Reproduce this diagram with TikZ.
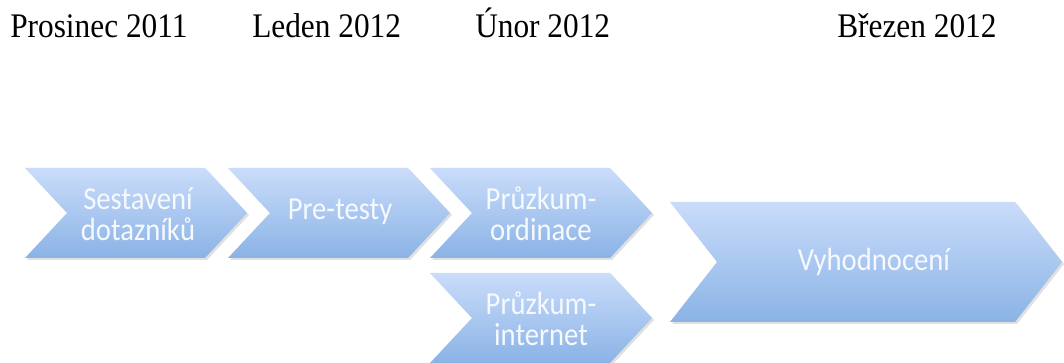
\documentclass[tikz,border=0pt]{standalone}
\usepackage{fontspec}
\setmainfont{Liberation Serif}
\newfontfamily\chevfont{Carlito}
\definecolor{chevtop}{RGB}{202,220,250}
\definecolor{chevbot}{RGB}{138,179,230}
\definecolor{chevtext}{RGB}{246,249,254}
\newcommand\mychevron[6]{%
  % #1 left, #2 top-right x, #3 ytop, #4 ybot, #5 depth, #6 unused
  \fill[black,opacity=0.12] ({#1+2},{#3+2}) -- ({#2+2},{#3+2}) -- ({#2+#5+2},{(#3+#4)/2+2}) -- ({#2+2},{#4+2}) -- ({#1+2},{#4+2}) -- ({#1+#5+2},{(#3+#4)/2+2}) -- cycle;
  \shade[top color=chevtop,bottom color=chevbot] (#1,#3) -- (#2,#3) -- ({#2+#5},{(#3+#4)/2}) -- (#2,#4) -- (#1,#4) -- ({#1+#5},{(#3+#4)/2}) -- cycle;
}
\tikzset{
  month/.style={anchor=base west,inner sep=0pt,yscale=1.1,transform shape,font=\fontsize{23.5}{28}\selectfont},
  chevlabel/.style={align=center,text=chevtext,inner sep=0pt,yscale=1.12,transform shape,font=\chevfont\fontsize{21.5}{20.5}\selectfont}
}
\begin{document}
\begin{tikzpicture}[x=0.75pt,y=-0.75pt]
\useasboundingbox (0,0) rectangle (1064,363);
\fill[white] (0,0) rectangle (1064,363);
\node[month] (m1) at (10,38) {Prosinec 2011};
\node[month] (m2) at (252,38) {Leden 2012};
\node[month] (m3) at (475,38) {Únor 2012};
\node[month] (m4) at (837,38) {Březen 2012};
\mychevron{25}{205}{168}{258}{42}{}
\mychevron{228}{408}{168}{258}{42}{}
\mychevron{430}{610}{168}{258}{42}{}
\mychevron{430}{610}{273}{363}{42}{}
\mychevron{670}{1015}{202}{322}{47}{}
\node[chevlabel] (c1) at (138,214) {Sestavení\\dotazníků};
\node[chevlabel] (c2) at (340,212) {Pre-testy};
\node[chevlabel] (c3) at (541,214) {Průzkum-\\ordinace};
\node[chevlabel] (c4) at (541,319) {Průzkum-\\internet};
\node[chevlabel] (c5) at (874,262) {Vyhodnocení};
\end{tikzpicture}
\end{document}
